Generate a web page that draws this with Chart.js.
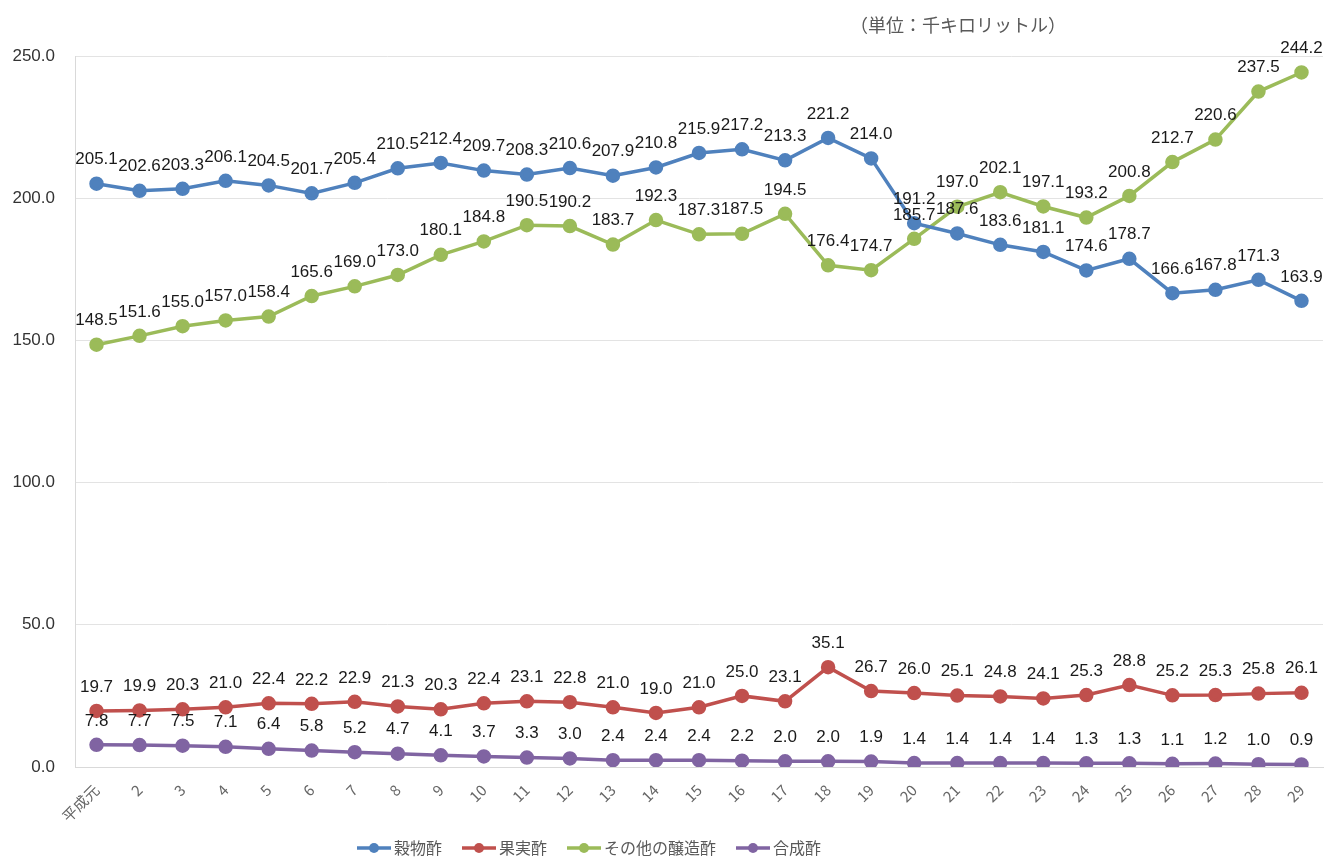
<!DOCTYPE html>
<html>
<head>
<meta charset="utf-8">
<script src="https://cdn.jsdelivr.net/npm/chart.js@4"></script>
<style>
  html, body { margin: 0; padding: 0; background: #fff; }
  #wrap { width: 1332px; height: 858px; position: relative; }
</style>
</head>
<body>
<div id="wrap"><canvas id="vinegarChart" width="1332" height="858"></canvas></div>
<script>
// --- data ---
const years = ['平成元','2','3','4','5','6','7','8','9','10','11','12','13','14','15','16','17','18','19','20','21','22','23','24','25','26','27','28','29'];

const grainVinegar = [205.1,202.6,203.3,206.1,204.5,201.7,205.4,210.5,212.4,209.7,208.3,210.6,207.9,210.8,215.9,217.2,213.3,221.2,214.0,191.2,187.6,183.6,181.1,174.6,178.7,166.6,167.8,171.3,163.9];
const fruitVinegar = [19.7,19.9,20.3,21.0,22.4,22.2,22.9,21.3,20.3,22.4,23.1,22.8,21.0,19.0,21.0,25.0,23.1,35.1,26.7,26.0,25.1,24.8,24.1,25.3,28.8,25.2,25.3,25.8,26.1];
const otherBrewed = [148.5,151.6,155.0,157.0,158.4,165.6,169.0,173.0,180.1,184.8,190.5,190.2,183.7,192.3,187.3,187.5,194.5,176.4,174.7,185.7,197.0,202.1,197.1,193.2,200.8,212.7,220.6,237.5,244.2];
const synthetic = [7.8,7.7,7.5,7.1,6.4,5.8,5.2,4.7,4.1,3.7,3.3,3.0,2.4,2.4,2.4,2.2,2.0,2.0,1.9,1.4,1.4,1.4,1.4,1.3,1.3,1.1,1.2,1.0,0.9];

const seriesNames = ['穀物酢','果実酢','その他の醸造酢','合成酢'];
const seriesColors = ['#4F81BD','#C0504D','#9BBB59','#8064A2'];
const yTicks = [0, 50, 100, 150, 200, 250];
const unitLabel = '（単位：千キロリットル）';

const numFamily = '"Liberation Sans Narrow", "Liberation Sans", sans-serif';
const cjkFont = '"Noto Sans CJK JP", "Noto Sans", sans-serif';

// --- data labels above each point ---
const pointLabels = {
  id: 'pointLabels',
  afterDatasetsDraw(chart) {
    const ctx = chart.ctx;
    ctx.save();
    ctx.font = '17px ' + numFamily;
    ctx.fillStyle = '#1a1a1a';
    ctx.textAlign = 'center';
    ctx.textBaseline = 'middle';
    chart.data.datasets.forEach((ds, i) => {
      chart.getDatasetMeta(i).data.forEach((pt, j) => {
        ctx.fillText(ds.data[j].toFixed(1), pt.x, pt.y - 24);
      });
    });
    ctx.restore();
  }
};

// --- unit note + legend ---
const extras = {
  id: 'extras',
  afterDraw(chart) {
    const ctx = chart.ctx;
    ctx.save();
    ctx.font = '18px ' + cjkFont;
    ctx.fillStyle = '#595959';
    ctx.textBaseline = 'middle';
    ctx.fillText(unitLabel, 850, 25);

    // legend
    ctx.font = '16px ' + cjkFont;
    let x = 357;
    const y = 848;
    seriesNames.forEach((name, i) => {
      ctx.strokeStyle = seriesColors[i];
      ctx.fillStyle = seriesColors[i];
      ctx.lineWidth = 3.5;
      ctx.beginPath();
      ctx.moveTo(x, y);
      ctx.lineTo(x + 34, y);
      ctx.stroke();
      ctx.beginPath();
      ctx.arc(x + 17, y, 5, 0, Math.PI * 2);
      ctx.fill();
      ctx.fillStyle = '#595959';
      ctx.fillText(name, x + 37, y);
      x += 37 + ctx.measureText(name).width + 20;
    });
    ctx.restore();
  }
};

const datasets = [grainVinegar, fruitVinegar, otherBrewed, synthetic].map((vals, i) => ({
  label: seriesNames[i],
  data: vals,
  borderColor: seriesColors[i],
  backgroundColor: seriesColors[i],
  borderWidth: 3.5,
  pointRadius: 5.5,
  pointHoverRadius: 5.5,
  tension: 0
}));

const chart = new Chart(document.getElementById('vinegarChart'), {
  type: 'line',
  data: { labels: years, datasets: datasets },
  options: {
    responsive: false,
    animation: false,
    layout: { padding: { top: 56, right: 0, left: 0, bottom: 0 } },
    plugins: {
      legend: { display: false },
      tooltip: { enabled: false }
    },
    scales: {
      x: {
        offset: true,
        grid: { display: false },
        border: { display: true, color: '#d9d9d9' },
        ticks: {
          minRotation: 45,
          maxRotation: 45,
          autoSkip: false,
          color: '#666',
          font: { size: 15, family: cjkFont },
          padding: 6
        },
        afterFit(scale) { scale.height = 91; }
      },
      y: {
        min: 0,
        max: 250,
        afterBuildTicks(scale) { scale.ticks = yTicks.map(v => ({ value: v })); },
        grid: { color: '#e3e3e3', drawTicks: false },
        border: { display: true, color: '#d9d9d9' },
        ticks: {
          color: '#333',
          font: { size: 17, family: numFamily },
          padding: 20,
          callback: v => v.toFixed(1)
        },
        afterFit(scale) { scale.width = 75; }
      }
    }
  },
  plugins: [pointLabels, extras]
});
</script>
</body>
</html>
